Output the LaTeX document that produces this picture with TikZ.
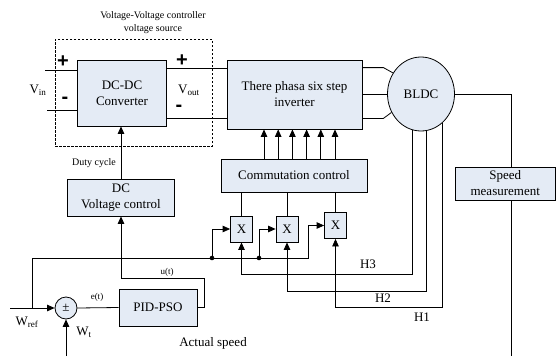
\documentclass[tikz,border=0pt]{standalone}
\usepackage{fontspec}
\setmainfont{Liberation Serif}
\newfontfamily\signfont{Liberation Sans}
\usepackage{tikz}
\usetikzlibrary{positioning,arrows.meta,shapes.geometric}
\usepackage{xcolor}
\definecolor{boxblue}{HTML}{E4EBF5}

\begin{document}
\begin{tikzpicture}[x=1pt,y=-1pt,node distance=5mm and 7mm,line width=0.8pt,
  font=\fontsize{13}{16}\selectfont,
  blk/.style={draw,fill=boxblue,align=center,inner sep=1pt},
  mult/.style={blk,minimum width=22pt,minimum height=26pt},
  arr/.style={-{Triangle[length=7.5pt,width=6.5pt]}},
  small/.style={font=\fontsize{10}{13}\selectfont},
  tiny/.style={font=\fontsize{9}{11}\selectfont},
  sgn/.style={font=\signfont\fontsize{20}{20}\selectfont\bfseries,inner sep=0pt}]
\useasboundingbox (0,0) rectangle (556,356);

\node (src) [draw,dash pattern=on 2.5pt off 1.5pt,minimum width=157pt,minimum height=107pt] at (133.5,92.5) {};
\node (title) [small,align=center,above=1pt of src,xshift=19.5pt] {Voltage-Voltage controller\\voltage source};
\node (dcdc) [blk,minimum width=89pt,minimum height=66pt] at (122,93) {DC-DC\\Converter};
\node (inv) [blk,minimum width=135pt,minimum height=69pt] at (294.5,94.5) {There phasa six step\\inverter};
\node (bldc) [ellipse,draw,fill=boxblue,minimum width=67pt,minimum height=74pt,inner sep=0pt] at (421,94) {BLDC};
\node (comm) [blk,minimum width=146pt,minimum height=33pt] at (294,175.5) {Commutation control};
\node (speed) [blk,minimum width=100.5pt,minimum height=33pt] at (505.25,183.5) {Speed\\measurement};
\node (dcv) [blk,minimum width=107pt,minimum height=37pt] at (121,197.5) {DC\\Voltage control};
\node (pid) [blk,minimum width=78pt,minimum height=37pt] at (158,307.5) {PID-PSO};
\node (sum) [circle,draw,fill=boxblue,minimum size=22pt,inner sep=0pt] at (66,308) {±};
\node (m1) [mult] at (241.5,229) {X};
\node (m2) [mult] at (287,229) {X};
\node (m3) [mult] at (335.5,225.5) {X};

\node (vin) at (38,90) {V\textsubscript{in}};
\node (vout) at (189,90) {V\textsubscript{out}};
\node (pin) [sgn] at (63,62) {+};
\node (nin) [sgn] at (65,100) {-};
\node (pout) [sgn] at (182,61) {+};
\node (nout) [sgn] at (179,108) {-};
\node (duty) [small] at (94,163) {Duty cycle};
\node (ut) [tiny] at (167,272) {u(t)};
\node (et) [tiny] at (97,297) {e(t)};
\node (wreflbl) at (27,322) {W\textsubscript{ref}};
\node (wtlbl) at (84,332) {W\textsubscript{t}};
\node (act) at (213,343) {Actual speed};
\node (h3) at (368,264) {H3};
\node (h2) at (383,298) {H2};
\node (h1) at (422,317) {H1};

\coordinate (vinp) at (45,70);
\coordinate (vinn) at (47,110);
\coordinate (wref) at (10,308);
\coordinate (br) at (32,308);
\coordinate (d1) at (212,258);
\coordinate (d2) at (259,258);
\coordinate (wt) at (66,356);
\coordinate (fbk) at (511.25,356);

\draw (vinp) -- (vinp -| dcdc.west);
\draw (vinn) -- (vinn -| dcdc.west);
\draw (dcdc.east |- 0,68) -- (inv.west |- 0,68);
\draw (dcdc.east |- 0,118) -- (inv.west |- 0,118);
\draw[arr] (dcv.north) -- (dcv.north |- dcdc.south);
\foreach \x in {264,278.2,292.4,306.6,320.8,335}
  \draw[arr] (\x,0 |- comm.north) -- (\x,0 |- inv.south);

\draw (inv.north east) ++(0,8) -- ++(21,0) -- (bldc.143);
\draw (inv.east) -- (inv.east -| bldc.west);
\draw (inv.south east) ++(0,-11) -- ++(21,0) -- (bldc.212);
\draw (bldc.east) -| (fbk |- speed.north);
\draw (fbk |- speed.south) -- (fbk);

\draw[arr] (bldc.257) -- (bldc.257 |- 0,274) -| (m1.south);
\draw[arr] (bldc.279) -- (bldc.279 |- 0,291) -| (m2.south);
\draw[arr] (bldc.306) -- (bldc.306 |- 0,307) -| (m3.south);
\foreach \m in {m1,m2,m3}
  \draw (\m.north) -- (\m.north |- comm.south);

\draw[arr] (wref) -- (sum.west);
\draw[arr] (br) -- (br |- d1) -- (308,258) |- (m3.west);
\fill (d1) circle (2.3pt);
\fill (d2) circle (2.3pt);
\draw[arr] (d1) |- (m1.west);
\draw[arr] (d2) |- (m2.west);
\draw (sum.east) -- (pid.west);
\draw[arr] (pid.east) -- ++(7,0) |- (dcv.south |- 0,278) -- (dcv.south);
\draw[arr] (wt) -- (sum.south);
\end{tikzpicture}
\end{document}
